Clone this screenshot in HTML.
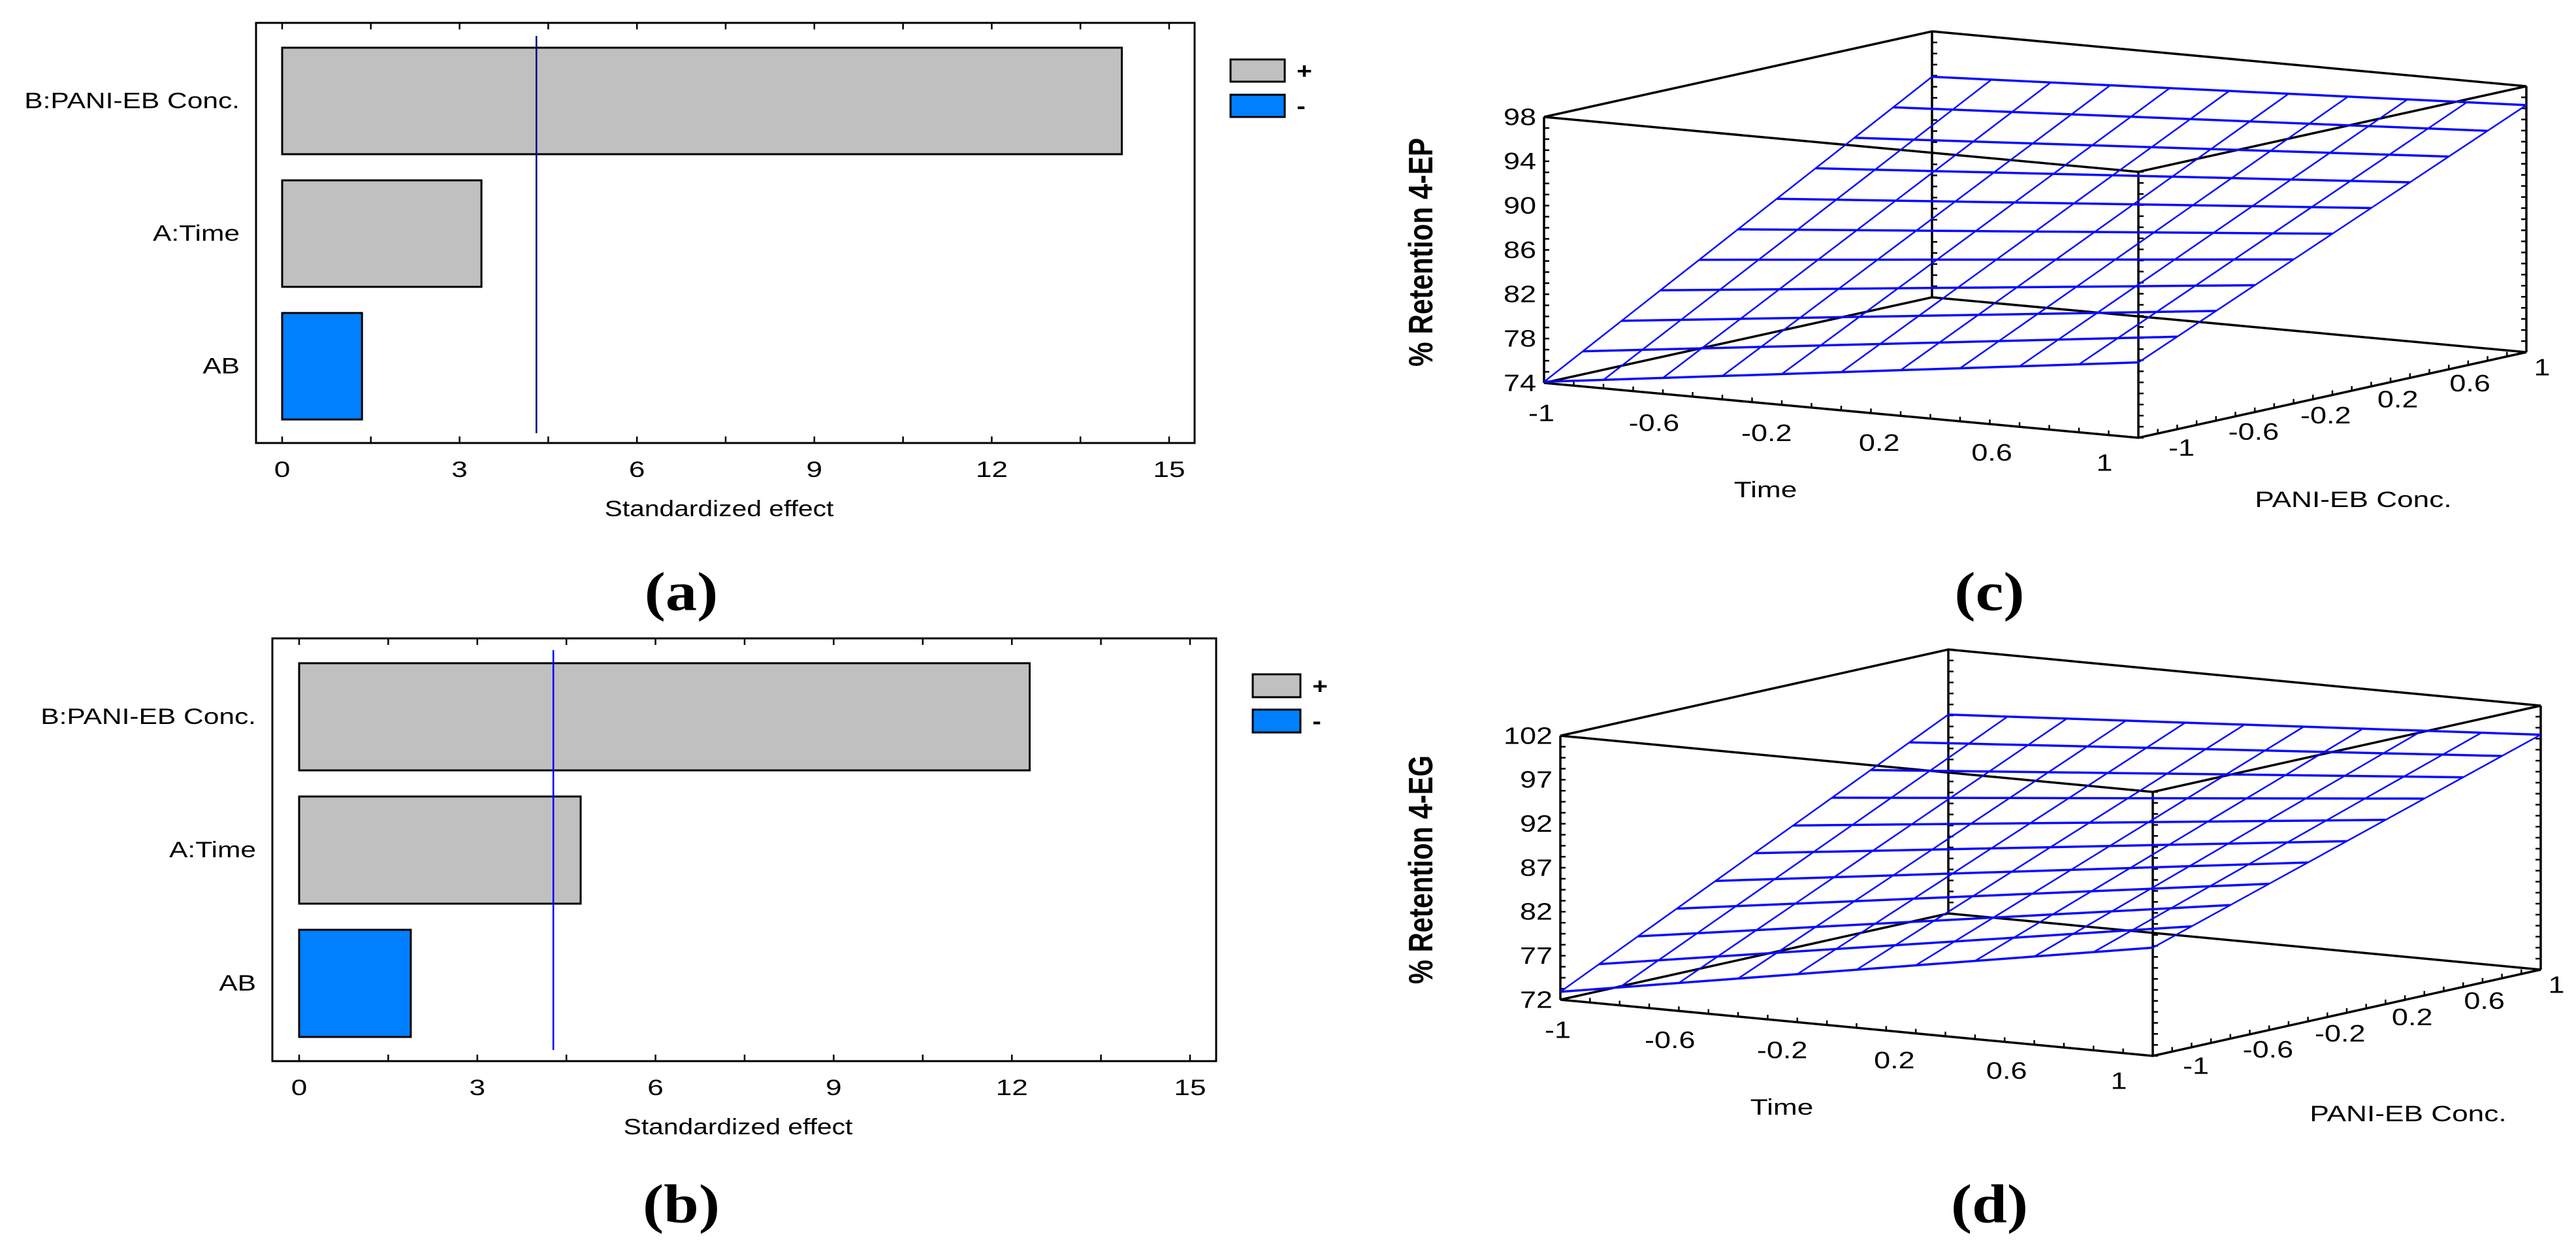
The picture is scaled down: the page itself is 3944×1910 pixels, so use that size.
<!DOCTYPE html>
<html><head><meta charset="utf-8">
<style>
html,body{margin:0;padding:0;background:#fff;}
svg{display:block;}
text{font-family:"Liberation Sans",Arial,sans-serif;fill:#000;}
text.serif{font-family:"Liberation Serif","Times New Roman",serif;font-weight:bold;}
</style></head>
<body>
<svg id="fig" width="3944" height="1910" viewBox="0 0 3944 1910" xmlns="http://www.w3.org/2000/svg"></svg>
<script>
// ---- Pareto chart data ----
const paretoCategories = ["B:PANI-EB Conc.", "A:Time", "AB"];
const paretoSigns = ["+", "+", "-"];
const paretoValuesA = [14.2, 3.37, 1.35];
const paretoValuesB = [12.3, 4.74, 1.88];
const paretoLimitA = 4.30;
const paretoLimitB = 4.28;
const paretoTicks = [0, 3, 6, 9, 12, 15];
// ---- Surface data (corner responses: (t,p)=(-1,-1),(1,-1),(-1,1),(1,1)) ----
const surfaceCornersC = [74.1, 80.8, 93.9, 96.3];
const surfaceCornersD = [72.9, 84.3, 94.6, 98.7];
const zTicksC = [74, 78, 82, 86, 90, 94, 98];
const zTicksD = [72, 77, 82, 87, 92, 97, 102];
const factorTicks = [-1, -0.6, -0.2, 0.2, 0.6, 1];

const NS = "http://www.w3.org/2000/svg";
const svg = document.getElementById("fig");
function el(tag, attrs, parent) {
  const e = document.createElementNS(NS, tag);
  for (const k in attrs) e.setAttribute(k, attrs[k]);
  (parent || svg).appendChild(e);
  return e;
}
function txt(parent, x, y, s, size, anchor, sx, extra) {
  const g = el("g", {transform: `translate(${x},${y}) scale(${sx},1)`}, parent);
  const t = el("text", {x: 0, y: 0, "font-size": size, "text-anchor": anchor, "dominant-baseline": "central"}, g);
  if (extra) for (const k in extra) t.setAttribute(k, extra[k]);
  t.textContent = s;
  return t;
}

function pareto(cfg) {
  const g = el("g", {});
  
  
  const X = v => cfg.x0 + (cfg.x15 - cfg.x0) * v / 15;
  const frame = el("rect", {x: cfg.fl, y: cfg.ft, width: cfg.fr - cfg.fl, height: cfg.fb - cfg.ft, fill: "none", stroke: "#000", "stroke-width": 3}, g);
  
  
  for (let v = 0; v <= 15.01; v += 1.5) {
    el("line", {x1: X(v), x2: X(v), y1: cfg.ft, y2: cfg.ft + 10, stroke: "#000", "stroke-width": 2.5}, g);
    el("line", {x1: X(v), x2: X(v), y1: cfg.fb, y2: cfg.fb - 10, stroke: "#000", "stroke-width": 2.5}, g);
  }
  paretoTicks.forEach(v => {
    const t = txt(g, X(v), cfg.tickY, String(v), 34, "middle", 1.3);
    
    
  });
  const xt = txt(g, (cfg.x0 + cfg.x15) / 2 - 10, cfg.titleY, "Standardized effect", 34, "middle", 1.2);
  
  
  cfg.values.forEach((v, i) => {
    const y = cfg.barTop + i * cfg.step;
    const r = el("rect", {x: X(0), y: y, width: X(v) - X(0), height: cfg.barH, fill: paretoSigns[i] === "+" ? "#c0c0c0" : "#0080ff", stroke: "#000", "stroke-width": 3}, g);
    
    
    const lbl = txt(g, cfg.fl - 25, y + cfg.barH / 2, paretoCategories[i], 34, "end", 1.25);
    
    
  });
  const vl = el("line", {x1: X(cfg.limit), x2: X(cfg.limit), y1: cfg.vt, y2: cfg.vb, stroke: cfg.vcol, "stroke-width": 2.5}, g);
  
  
  const leg = el("g", {}, g);
  
  
  el("rect", {x: cfg.lx, y: cfg.l1, width: cfg.lw, height: cfg.lh, fill: "#c0c0c0", stroke: "#000", "stroke-width": 3}, leg);
  el("rect", {x: cfg.lx, y: cfg.l2, width: cfg.lw, height: cfg.lh, fill: "#0080ff", stroke: "#000", "stroke-width": 3}, leg);
  txt(leg, cfg.lx + cfg.lw + 30, cfg.l1 + cfg.lh / 2, "+", 34, "middle", 1.2, {"font-weight": "bold"});
  txt(leg, cfg.lx + cfg.lw + 25, cfg.l2 + cfg.lh / 2, "-", 34, "middle", 1.2, {"font-weight": "bold"});
  const pl = txt(g, 1043, cfg.letterY, cfg.letter, 84, "middle", 1.15, {"class": "serif"});
  
  
}

pareto({name: "pareto-chart-a", values: paretoValuesA, limit: paretoLimitA, vcol: "#000080",
  fl: 392, fr: 1829, ft: 35, fb: 678, x0: 432, x15: 1790, barTop: 73, step: 203, barH: 163,
  vt: 55, vb: 663, tickY: 719, titleY: 778, lx: 1884, lw: 83, l1: 91, l2: 145, lh: 34, letter: "(a)", letterY: 905});
pareto({name: "pareto-chart-b", values: paretoValuesB, limit: paretoLimitB, vcol: "#0000ff",
  fl: 417, fr: 1862, ft: 977, fb: 1624, x0: 458, x15: 1822, barTop: 1015, step: 204, barH: 164,
  vt: 995, vb: 1607, tickY: 1665, titleY: 1724, lx: 1918, lw: 73, l1: 1032, l2: 1086, lh: 35, letter: "(b)", letterY: 1842});

function surface(cfg) {
  const g = el("g", {});
  
  
  const P = (t, p, z) => {
    const a = (t + 1) / 2, b = (p + 1) / 2, c = (z - cfg.zmin) / (cfg.zmax - cfg.zmin);
    return [cfg.ox + a * cfg.tx + b * cfg.px, cfg.oy + a * cfg.ty + b * cfg.py - c * cfg.h];
  };
  const C = cfg.corners;
  const Z = (t, p) => {
    const a = (t + 1) / 2, b = (p + 1) / 2;
    return C[0] * (1 - a) * (1 - b) + C[1] * a * (1 - b) + C[2] * (1 - a) * b + C[3] * a * b;
  };
  const box = el("g", {stroke: "#000", "stroke-width": 3.5, fill: "none"}, g);
  
  
  const corners = [[-1, -1], [1, -1], [1, 1], [-1, 1]];
  [cfg.zmin, cfg.zmax].forEach(z => {
    const pts = corners.map(c => P(c[0], c[1], z).join(",")).join(" ");
    el("polygon", {points: pts}, box);
  });
  corners.forEach(c => {
    const a = P(c[0], c[1], cfg.zmin), b = P(c[0], c[1], cfg.zmax);
    el("line", {x1: a[0], y1: a[1], x2: b[0], y2: b[1]}, box);
  });
  for (let i = 0; i <= 24; i++) {
    const z = cfg.zmin + (cfg.zmax - cfg.zmin) * i / 24;
    [[-1, -1, 8], [1, -1, 8], [1, 1, -8], [-1, 1, 8]].forEach(c => {
      const a = P(c[0], c[1], z);
      el("line", {x1: a[0], y1: a[1], x2: a[0] + c[2], y2: a[1], "stroke-width": 2.5}, box);
    });
  }
  for (let i = 0; i <= 20; i++) {
    const v = -1 + i / 10;
    const a = P(v, -1, cfg.zmin), b = P(1, v, cfg.zmin);
    el("line", {x1: a[0], y1: a[1], x2: a[0], y2: a[1] - 7, "stroke-width": 2.5}, box);
    el("line", {x1: b[0], y1: b[1], x2: b[0], y2: b[1] - 7, "stroke-width": 2.5}, box);
  }
  const grid = el("g", {stroke: "#0a0aff", "stroke-width": 3.5, fill: "none"}, g);
  
  
  const N = 10;
  for (let i = 0; i <= N; i++) {
    const p = -1 + 2 * i / N;
    let s1 = [], s2 = [];
    for (let j = 0; j <= N; j++) {
      const t = -1 + 2 * j / N;
      s1.push(P(t, p, Z(t, p)).join(","));
      s2.push(P(p, t, Z(p, t)).join(","));
    }
    el("polyline", {points: s1.join(" ")}, grid);
    el("polyline", {points: s2.join(" "), "stroke-width": 2.5}, grid);
  }
  cfg.zticks.forEach(z => {
    const a = P(-1, -1, z);
    const t = txt(g, a[0] - 12, a[1], String(z), 36, "end", 1.25);
    
    
  });
  factorTicks.forEach(v => {
    const a = P(v, -1, cfg.zmin), f = (v + 1) / 2;
    const t = txt(g, a[0] - f * 48 - 4, a[1] + 46 - f * 8, String(v), 36, "middle", 1.25);
    
    
    const b = P(1, v, cfg.zmin);
    const u = txt(g, b[0] + 66 - f * 42, b[1] + 15 + f * 8, String(v), 36, "middle", 1.25);
    
    
  });
  const tt = txt(g, cfg.timeX, cfg.timeY, "Time", 34, "middle", 1.3);
  
  
  const pt = txt(g, cfg.paniX, cfg.paniY, "PANI-EB Conc.", 34, "middle", 1.3);
  
  
  const yt = el("text", {x: 0, y: 0, "font-size": 52, "font-weight": "bold", "text-anchor": "middle", "dominant-baseline": "central",
    textLength: 350, lengthAdjust: "spacingAndGlyphs", transform: `translate(2176,${cfg.ytY}) rotate(-90)`}, g);
  yt.textContent = cfg.ytitle;
  
  
  const pl = txt(g, 3046, cfg.letterY, cfg.letter, 84, "middle", 1.15, {"class": "serif"});
  
  
}

surface({name: "surface-plot-c", corners: surfaceCornersC, zticks: zTicksC, zmin: 74, zmax: 98,
  ox: 2364, oy: 586, tx: 910, ty: 84, px: 594, py: -131, h: 407,
  timeX: 2703, timeY: 750, paniX: 3603, paniY: 765, ytitle: "% Retention 4-EP", ytY: 386, letter: "(c)", letterY: 905});
surface({name: "surface-plot-d", corners: surfaceCornersD, zticks: zTicksD, zmin: 72, zmax: 102,
  ox: 2389, oy: 1530, tx: 907, ty: 86, px: 594, py: -132, h: 404,
  timeX: 2728, timeY: 1695, paniX: 3687, paniY: 1705, ytitle: "% Retention 4-EG", ytY: 1331, letter: "(d)", letterY: 1842});
</script>
</body></html>
